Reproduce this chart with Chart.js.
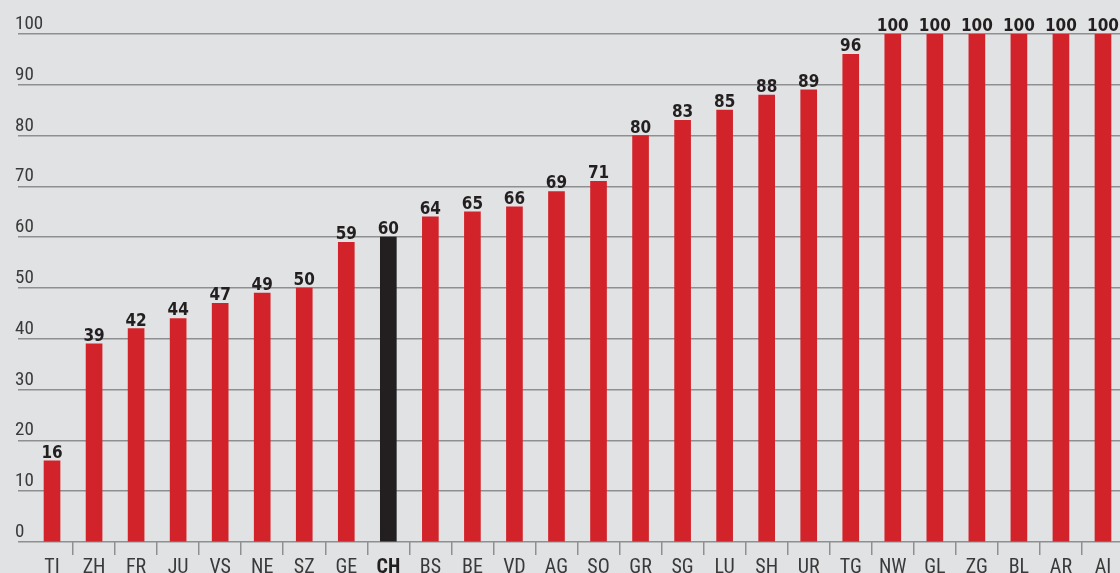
<!DOCTYPE html>
<html>
<head>
<meta charset="utf-8">
<script src="https://cdn.jsdelivr.net/npm/chart.js@4"></script>
<style>
  html, body { margin: 0; padding: 0; background: #e1e2e4; overflow: hidden; }
  #chart { display: block; }
</style>
</head>
<body>
<canvas id="chart" width="1124" height="573"></canvas>
<script>
// Kantone, sortiert nach Wert
const cantons = ["TI", "ZH", "FR", "JU", "VS", "NE", "SZ", "GE", "CH", "BS", "BE", "VD", "AG",
  "SO", "GR", "SG", "LU", "SH", "UR", "TG", "NW", "GL", "ZG", "BL", "AR", "AI"];
const values = [16, 39, 42, 44, 47, 49, 50, 59, 60, 64, 65, 66, 69,
  71, 80, 83, 85, 88, 89, 96, 100, 100, 100, 100, 100, 100];
const yTicks = [0, 10, 20, 30, 40, 50, 60, 70, 80, 90, 100];

const RED = "#d2232a";
const BLACK = "#231f20";
const GRID = "#8e8f91";
const TEXT = "#3a3a3a";
const NARROW = "'Liberation Sans Narrow', 'Roboto Condensed', Roboto, sans-serif";
const highlight = "CH";

// Werte über den Balken, Achsenbeschriftung links über den Linien
const labelsPlugin = {
  id: "labelsPlugin",
  afterDatasetsDraw(chart) {
    const ctx = chart.ctx;
    const meta = chart.getDatasetMeta(0);
    const y = chart.scales.y;
    ctx.save();
    ctx.font = "bold 17px 'DejaVu Sans Condensed', 'DejaVu Sans', sans-serif";
    ctx.fillStyle = BLACK;
    ctx.textAlign = "center";
    ctx.textBaseline = "alphabetic";
    meta.data.forEach((bar, i) => {
      ctx.fillText(String(values[i]), bar.x, bar.y - 3);
    });

    ctx.font = "19px " + NARROW;
    ctx.fillStyle = TEXT;
    ctx.textAlign = "left";
    y.ticks.forEach(t => {
      ctx.fillText(String(t.value), 15, y.getPixelForValue(t.value) - 5);
    });
    ctx.restore();
  }
};

new Chart(document.getElementById("chart"), {
  type: "bar",
  data: {
    labels: cantons,
    datasets: [{
      data: values,
      backgroundColor: cantons.map(c => c === highlight ? BLACK : RED),
      barThickness: 16
    }]
  },
  options: {
    responsive: false,
    animation: false,
    layout: { padding: { top: 34, left: 15, right: 0, bottom: 0 } },
    plugins: {
      legend: { display: false },
      tooltip: { enabled: false }
    },
    scales: {
      x: {
        afterFit: s => { s.height = 31; },
        border: { display: false },
        grid: {
          offset: true,
          drawOnChartArea: false,
          tickLength: 13,
          lineWidth: 1.5,
          color: c => c.index === 0 ? "rgba(0,0,0,0)" : GRID
        },
        ticks: {
          padding: 1,
          color: c => cantons[c.index] === highlight ? BLACK : TEXT,
          font: c => ({
            family: NARROW,
            size: 20,
            weight: cantons[c.index] === highlight ? "bold" : "normal"
          })
        }
      },
      y: {
        min: 0,
        max: 100,
        afterFit: s => { s.width = 16; },
        afterBuildTicks: s => { s.ticks = yTicks.map(v => ({ value: v })); },
        border: { display: false },
        grid: {
          color: GRID,
          lineWidth: 1.5,
          tickLength: 13
        },
        ticks: { display: false }
      }
    }
  },
  plugins: [labelsPlugin]
});
</script>
</body>
</html>
